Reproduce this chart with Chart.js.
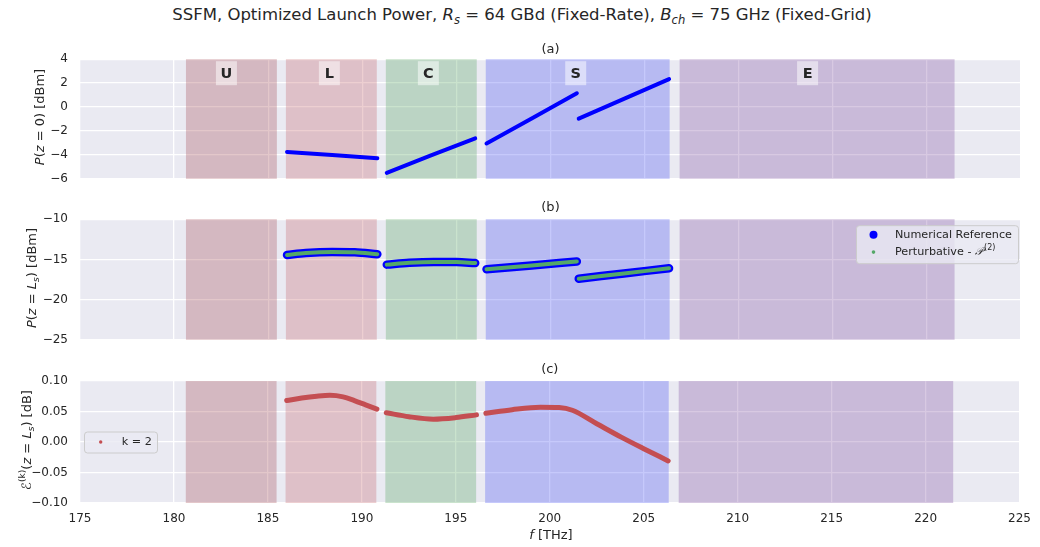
<!DOCTYPE html>
<html>
<head>
<meta charset="utf-8">
<script src="https://cdn.jsdelivr.net/npm/chart.js@4.4.1/dist/chart.umd.min.js"></script>
<style>
  html, body { margin: 0; padding: 0; background: #ffffff; }
  #page { position: relative; width: 1040px; height: 547px; font-family: "DejaVu Sans", sans-serif; color: #262626; overflow: hidden; }
  canvas { position: absolute; left: 0; }
  .lbl { position: absolute; white-space: nowrap; transform: translate(-50%, -50%); font-size: 13px; line-height: 1; }
  .ylbl { transform: translate(-50%, -50%) rotate(-90deg); }
  sub, sup { font-size: 70%; line-height: 0; }
</style>
</head>
<body>
<div id="page">
  <canvas id="chartA" width="1040" height="158" style="top:40px"></canvas>
  <canvas id="chartB" width="1040" height="159" style="top:200px"></canvas>
  <canvas id="chartC" width="1040" height="190" style="top:360px"></canvas>

  <div class="lbl" style="left:522px; top:15px; font-size:16.5px;">SSFM, Optimized Launch Power, <i>R<sub>s</sub></i> = 64 GBd (Fixed-Rate), <i>B<sub>ch</sub></i> = 75 GHz (Fixed-Grid)</div>
  <div class="lbl ylbl" style="left:39px; top:117px;"><i>P</i>(<i>z</i> = 0) [dBm]</div>
  <div class="lbl ylbl" style="left:31px; top:278px;"><i>P</i>(<i>z</i> = <i>L<sub>s</sub></i>) [dBm]</div>
  <div class="lbl ylbl" style="left:26px; top:440px;">&#x2130;<sup>(k)</sup>(<i>z</i> = <i>L<sub>s</sub></i>) [dB]</div>
  <div class="lbl" style="left:551px; top:534px;"><i>f</i> [THz]</div>
</div>

<script>
// Optical bands [THz]
const bandNames = ["U", "L", "C", "S", "E"];
const bandStart = [180.63, 185.94, 191.25, 196.56, 206.86];
const bandEnd = [185.46, 190.77, 196.08, 206.33, 221.47];
const bandLabelAt = [182.78, 188.25, 193.51, 201.34, 213.66];
const bandColors = [
    "rgba(161, 71, 79, 0.3)",
    "rgba(197, 97, 102, 0.3)",
    "rgba(81, 161, 89, 0.3)",
    "rgba(67, 77, 242, 0.3)",
    "rgba(127, 77, 159, 0.3)",
];

// (a) optimized launch power per sub-band [dBm]
const freqL = [186.0, 188.4, 190.8];
const launchL = [-3.75, -4.02, -4.28];
const freqC = [191.3, 193.65, 196.0];
const launchC = [-5.5, -4.05, -2.62];
const freqS1 = [196.6, 199.0, 201.4];
const launchS1 = [-3.05, -0.95, 1.15];
const freqS2 = [201.5, 203.9, 206.3];
const launchS2 = [-0.97, 0.68, 2.33];

// (b) power at end of span [dBm]
const freqRefL = [186.0, 187.0, 188.4, 189.6, 190.8];
const refL = [-14.45, -14.2, -14.07, -14.1, -14.35];
const freqRefC = [191.3, 192.5, 193.8, 195.0, 196.0];
const refC = [-15.65, -15.42, -15.32, -15.33, -15.45];
const freqRefS1 = [196.6, 199.0, 201.4];
const refS1 = [-16.22, -15.75, -15.25];
const freqRefS2 = [201.5, 203.9, 206.3];
const refS2 = [-17.4, -16.75, -16.1];
const pertL = [-14.45, -14.2, -14.07, -14.1, -14.35];
const pertC = [-15.65, -15.42, -15.32, -15.33, -15.45];
const pertS1 = [-16.22, -15.75, -15.25];
const pertS2 = [-17.4, -16.75, -16.1];

// (c) error of the k = 2 perturbative model [dB]
const freqErrL = [186.0, 186.8, 187.6, 188.3, 189.0, 189.6, 190.2, 190.8];
const errL = [0.068, 0.072, 0.075, 0.0765, 0.074, 0.068, 0.061, 0.054];
const freqErrC = [191.3, 192.5, 193.8, 195.0, 196.1];
const errC = [0.048, 0.0415, 0.0375, 0.040, 0.0445];
const freqErrS = [196.6, 198.0, 199.5, 200.5, 201.2, 202.5, 203.8, 205.0, 206.3];
const errS = [0.047, 0.053, 0.057, 0.0565, 0.052, 0.030, 0.008, -0.011, -0.031];

const ink = "#262626";
Chart.defaults.font.family = "'DejaVu Sans', sans-serif";

// join sub-band segments with a gap point between them
const joinSegments = (...segs) => {
    const pts = [];
    segs.forEach(([freqs, values], k) => {
        if (k > 0) pts.push({ x: freqs[0], y: null });
        freqs.forEach((f, i) => pts.push({ x: f, y: values[i] }));
    });
    return pts;
};

const minus = (s) => s.replace("-", "\u2212");

const plotBackground = {
    id: "plotBackground",
    beforeDraw(chart) {
        const { ctx, chartArea: a } = chart;
        ctx.save();
        ctx.fillStyle = "#eaeaf2";
        ctx.fillRect(a.left, a.top, a.width, a.height);
        ctx.restore();
    },
};

const bandShading = {
    id: "bandShading",
    beforeDatasetsDraw(chart, args, opts) {
        const { ctx, chartArea: a, scales } = chart;
        const x = scales.x;
        ctx.save();
        bandStart.forEach((f0, i) => {
            const x0 = x.getPixelForValue(f0);
            const x1 = x.getPixelForValue(bandEnd[i]);
            ctx.fillStyle = bandColors[i];
            ctx.fillRect(x0, a.top, x1 - x0, a.height);
        });
        if (opts.labels) {
            ctx.font = "bold 14.5px 'DejaVu Sans'";
            ctx.textAlign = "center";
            ctx.textBaseline = "middle";
            bandNames.forEach((name, i) => {
                const cx = x.getPixelForValue(bandLabelAt[i]);
                const cy = a.top + 14;
                ctx.fillStyle = "rgba(255, 255, 255, 0.5)";
                ctx.fillRect(cx - 10.5, cy - 12, 21, 24);
                ctx.fillStyle = ink;
                ctx.fillText(name, cx, cy + 1);
            });
        }
        ctx.restore();
    },
};

const insetLegend = {
    id: "insetLegend",
    afterDraw(chart, args, opts) {
        if (!opts.items) return;
        const { ctx, chartArea: a } = chart;
        const left = opts.right != null ? a.right - opts.right - opts.width : a.left + opts.left;
        const top = opts.top != null ? a.top + opts.top : (a.top + a.bottom) / 2 - opts.height / 2;
        ctx.save();
        ctx.beginPath();
        ctx.roundRect(left + 0.5, top + 0.5, opts.width, opts.height, 3);
        ctx.fillStyle = "rgba(234, 234, 242, 0.8)";
        ctx.fill();
        ctx.strokeStyle = "#cccccc";
        ctx.lineWidth = 1;
        ctx.stroke();
        ctx.textBaseline = "middle";
        opts.items.forEach((item, i) => {
            const ds = chart.data.datasets[item.dataset];
            const cy = top + opts.firstRow + i * opts.rowGap;
            ctx.beginPath();
            ctx.arc(left + opts.markerX, cy, item.radius, 0, Math.PI * 2);
            ctx.fillStyle = ds.borderColor;
            ctx.fill();
            ctx.fillStyle = ink;
            ctx.font = "11.2px 'DejaVu Sans'";
            let tx = left + opts.textX;
            ctx.fillText(ds.label, tx, cy);
            if (item.math) {
                tx += ctx.measureText(ds.label).width;
                ctx.font = "italic 11.2px 'DejaVu Sans'";
                ctx.fillText(item.math, tx, cy);
                tx += ctx.measureText(item.math).width + 1;
                ctx.font = "8px 'DejaVu Sans'";
                ctx.fillText(item.sup, tx, cy - 4);
            }
        });
        ctx.restore();
    },
};

const freqAxis = (showLabels, height) => ({
    type: "linear",
    min: 175,
    max: 225,
    ticks: {
        stepSize: 5,
        display: showLabels,
        padding: 9,
        color: ink,
        font: { size: 12 },
        callback: (v) => String(v),
    },
    grid: { color: "#ffffff", lineWidth: 1.3, drawTicks: false },
    border: { display: false },
    afterFit: (scale) => {
        scale.height = height;
    },
});

const levelAxis = (min, max, step, digits) => ({
    min: min,
    max: max,
    ticks: {
        stepSize: step,
        padding: 12,
        color: ink,
        font: { size: 12 },
        callback: (v) => minus((Math.abs(v) < 1e-9 ? 0 : v).toFixed(digits)),
    },
    grid: { color: "#ffffff", lineWidth: 1.3, drawTicks: false },
    border: { display: false },
    afterFit: (scale) => {
        scale.width = 80;
    },
});

const panelOptions = (title, pad, xAxis, yAxis, extra) => ({
    responsive: false,
    animation: false,
    events: [],
    layout: { padding: { left: 0, right: 19, top: 0, bottom: 0 } },
    scales: { x: xAxis, y: yAxis },
    plugins: Object.assign(
        {
            legend: { display: false },
            tooltip: { enabled: false },
            title: {
                display: true,
                text: title,
                fullSize: false,
                color: ink,
                font: { size: 13, weight: "normal" },
                padding: pad,
            },
        },
        extra
    ),
});

// (a) launch power
new Chart(document.getElementById("chartA"), {
    type: "line",
    data: {
        datasets: [
            {
                label: "Launch power",
                data: joinSegments(
                    [freqL, launchL],
                    [freqC, launchC],
                    [freqS1, launchS1],
                    [freqS2, launchS2]
                ),
                borderColor: "#0000ff",
                borderWidth: 4,
                borderCapStyle: "round",
                pointRadius: 0,
                spanGaps: false,
            },
        ],
    },
    options: panelOptions(
        "(a)",
        { top: 0, bottom: 1.4 },
        freqAxis(false, 13),
        levelAxis(-6, 4, 2, 0),
        { bandShading: { labels: true } }
    ),
    plugins: [plotBackground, bandShading],
});

// (b) received power
new Chart(document.getElementById("chartB"), {
    type: "line",
    data: {
        datasets: [
            {
                label: "Numerical Reference",
                data: joinSegments(
                    [freqRefL, refL],
                    [freqRefC, refC],
                    [freqRefS1, refS1],
                    [freqRefS2, refS2]
                ),
                borderColor: "#0000ff",
                borderWidth: 8.5,
                borderCapStyle: "round",
                cubicInterpolationMode: "monotone",
                pointRadius: 0,
                order: 1,
            },
            {
                label: "Perturbative - ",
                data: joinSegments(
                    [freqRefL, pertL],
                    [freqRefC, pertC],
                    [freqRefS1, pertS1],
                    [freqRefS2, pertS2]
                ),
                borderColor: "#55a868",
                borderWidth: 4,
                borderCapStyle: "round",
                cubicInterpolationMode: "monotone",
                pointRadius: 0,
                order: 0,
            },
        ],
    },
    options: panelOptions(
        "(b)",
        { top: 0, bottom: 3.4 },
        freqAxis(false, 12),
        levelAxis(-25, -10, 5, 0),
        {
            bandShading: { labels: false },
            insetLegend: {
                right: 3,
                top: 6,
                width: 162,
                height: 38,
                markerX: 17.5,
                textX: 39,
                firstRow: 9.5,
                rowGap: 17.4,
                items: [
                    { dataset: 0, radius: 4 },
                    { dataset: 1, radius: 1.8, math: "\u{1D4AB}", sup: "(2)" },
                ],
            },
        }
    ),
    plugins: [plotBackground, bandShading, insetLegend],
});

// (c) model error
new Chart(document.getElementById("chartC"), {
    type: "line",
    data: {
        datasets: [
            {
                label: "k = 2",
                data: joinSegments(
                    [freqErrL, errL],
                    [freqErrC, errC],
                    [freqErrS, errS]
                ),
                borderColor: "#c44e52",
                borderWidth: 5,
                borderCapStyle: "round",
                cubicInterpolationMode: "monotone",
                pointRadius: 0,
            },
        ],
    },
    options: panelOptions(
        "(c)",
        { top: 1.5, bottom: 3.9 },
        freqAxis(true, 47),
        levelAxis(-0.1, 0.1, 0.05, 2),
        {
            bandShading: { labels: false },
            insetLegend: {
                left: 4,
                width: 73,
                height: 21,
                markerX: 16.7,
                textX: 37.7,
                firstRow: 10.5,
                rowGap: 0,
                items: [{ dataset: 0, radius: 1.7 }],
            },
        }
    ),
    plugins: [plotBackground, bandShading, insetLegend],
});
</script>
</body>
</html>
